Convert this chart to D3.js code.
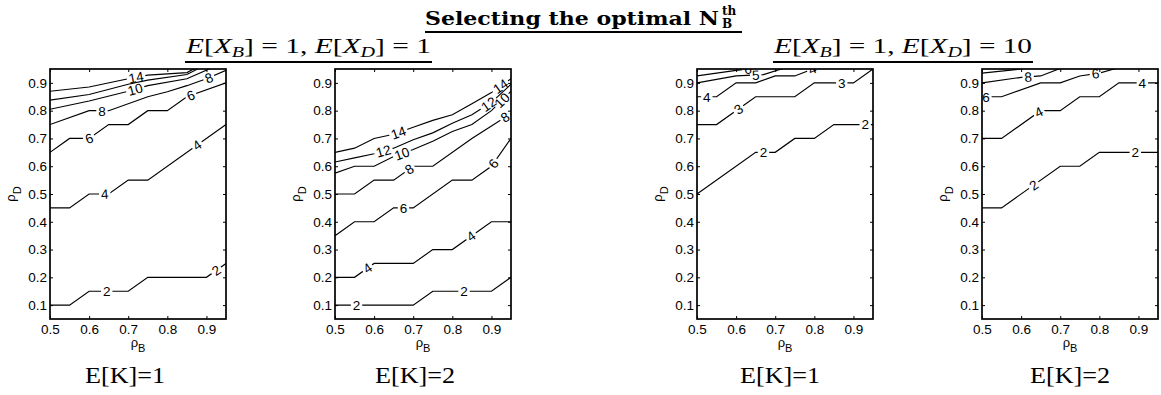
<!DOCTYPE html>
<html>
<head>
<meta charset="utf-8">
<script src="https://cdn.jsdelivr.net/npm/d3@7"></script>
<style>
body { margin: 0; background: #fff; }
</style>
</head>
<body>
<script>

var W = 1161,
    H = 395;

// shared axis ranges / ticks
var xDomain = [0.5, 0.95];
var yDomain = [0.05, 0.95];
var xTicks = [0.5, 0.6, 0.7, 0.8, 0.9];
var yTicks = [0.1, 0.2, 0.3, 0.4, 0.5, 0.6, 0.7, 0.8, 0.9];

var captions = ["E[K]=1", "E[K]=2", "E[K]=1", "E[K]=2"];
var groupTitles = [["1", "1"], ["1", "10"]];   // E[X_B], E[X_D]

// contour lines of the optimal N_B^th, traced as [rho_B, rho_D]
// panel 1 : E[XB]=1, E[XD]=1, E[K]=1
var levels1 = [2, 4, 6, 8, 10, 12, 14];
var lines1 = [
  [[0.5,0.1],[0.55,0.1],[0.6,0.15],[0.7,0.15],[0.75,0.2],[0.9,0.2],[0.95,0.25]],
  [[0.5,0.45],[0.55,0.45],[0.6,0.5],[0.65,0.5],[0.7,0.55],[0.75,0.55],[0.95,0.75]],
  [[0.5,0.65],[0.55,0.7],[0.6,0.7],[0.65,0.75],[0.7,0.75],[0.75,0.8],[0.8,0.8],[0.85,0.85],[0.95,0.9]],
  [[0.5,0.75],[0.6,0.8],[0.65,0.8],[0.75,0.85],[0.8,0.868],[0.85,0.89],[0.9,0.915],[0.95,0.945]],
  [[0.5,0.805],[0.6,0.835],[0.7,0.87],[0.75,0.89],[0.85,0.915],[0.91,0.952]],
  [[0.5,0.838],[0.6,0.858],[0.7,0.895],[0.75,0.91],[0.85,0.93],[0.88,0.952]],
  [[0.5,0.87],[0.6,0.885],[0.7,0.915],[0.75,0.928],[0.85,0.937],[0.87,0.952]]
];
var labels1 = [[0.645, 0.925], [0.64, 0.876], [0.6, 0.86], [0.633, 0.906], [0.718], [], [0.72]];

// panel 2 : E[XB]=1, E[XD]=1, E[K]=2
var levels2 = [2, 4, 6, 8, 10, 12, 14];
var lines2 = [
  [[0.5,0.1],[0.7,0.1],[0.75,0.15],[0.9,0.15],[0.95,0.2]],
  [[0.5,0.2],[0.55,0.2],[0.6,0.25],[0.7,0.25],[0.75,0.3],[0.8,0.3],[0.9,0.4],[0.95,0.4]],
  [[0.5,0.35],[0.55,0.4],[0.6,0.4],[0.65,0.45],[0.7,0.45],[0.8,0.55],[0.85,0.55],[0.9,0.6],[0.95,0.7]],
  [[0.5,0.5],[0.55,0.5],[0.6,0.55],[0.65,0.55],[0.7,0.6],[0.75,0.6],[0.85,0.7],[0.9,0.745],[0.95,0.79]],
  [[0.5,0.575],[0.55,0.6],[0.6,0.6],[0.65,0.635],[0.7,0.66],[0.75,0.69],[0.8,0.725],[0.85,0.75],[0.9,0.8],[0.95,0.87]],
  [[0.5,0.615],[0.55,0.63],[0.6,0.645],[0.65,0.665],[0.7,0.695],[0.75,0.72],[0.8,0.755],[0.85,0.785],[0.9,0.83],[0.95,0.895]],
  [[0.5,0.65],[0.55,0.665],[0.6,0.7],[0.65,0.715],[0.7,0.74],[0.75,0.765],[0.8,0.785],[0.85,0.825],[0.9,0.865],[0.95,0.915]]
];
var labels2 = [[0.555, 0.83], [0.583, 0.848], [0.675, 0.905], [0.69, 0.935], [0.671, 0.927], [0.624, 0.893], [0.662, 0.923]];

// panel 3 : E[XB]=1, E[XD]=10, E[K]=1
var levels3 = [2, 3, 4, 5, 6];
var lines3 = [
  [[0.5,0.5],[0.65,0.65],[0.7,0.65],[0.75,0.7],[0.8,0.7],[0.85,0.75],[0.95,0.75]],
  [[0.5,0.75],[0.55,0.75],[0.65,0.85],[0.75,0.85],[0.8,0.9],[0.9,0.9],[0.95,0.95]],
  [[0.5,0.85],[0.55,0.85],[0.6,0.9],[0.65,0.9],[0.7,0.925],[0.75,0.925],[0.8,0.952]],
  [[0.5,0.9],[0.6,0.925],[0.67,0.93],[0.72,0.952]],
  [[0.5,0.925],[0.6,0.945],[0.66,0.955]]
];
var labels3 = [[0.67, 0.93], [0.606, 0.87], [0.525, 0.795], [0.65], [0.63]];

// panel 4 : E[XB]=1, E[XD]=10, E[K]=2
var levels4 = [2, 4, 6, 8, 10];
var lines4 = [
  [[0.5,0.45],[0.55,0.45],[0.7,0.6],[0.75,0.6],[0.8,0.65],[0.95,0.65]],
  [[0.5,0.7],[0.55,0.7],[0.65,0.8],[0.7,0.8],[0.75,0.85],[0.8,0.85],[0.85,0.9],[0.95,0.9]],
  [[0.5,0.85],[0.55,0.85],[0.65,0.9],[0.7,0.9],[0.75,0.925],[0.8,0.935],[0.85,0.955]],
  [[0.5,0.9],[0.6,0.92],[0.65,0.925],[0.7,0.952]],
  [[0.5,0.935],[0.6,0.95],[0.62,0.955]]
];
var labels4 = [[0.632, 0.892], [0.645, 0.91], [0.51, 0.79], [0.618], []];

var panels = [
  {levels: levels1, lines: lines1, labels: labels1},
  {levels: levels2, lines: lines2, labels: labels2},
  {levels: levels3, lines: lines3, labels: labels3},
  {levels: levels4, lines: lines4, labels: labels4}
];

// layout
var panelLeft = [50, 335, 697, 982],
    panelW = 176,
    plotTop = 69,
    plotBottom = 319;
var captionX = [125, 415, 780, 1070];
var groupSpan = [[185, 432], [773, 1033]];

var sans = "'Liberation Sans', Arial, Helvetica, sans-serif";
var serif = "'Liberation Serif', 'Times New Roman', serif";

var svg = d3.select("body").append("svg")
    .attr("width", W)
    .attr("height", H)
    .style("font-family", sans);
var defs = svg.append("defs");

function valueAt(pts, vx) {
  if (vx <= pts[0][0]) return pts[0][1];
  for (var i = 1; i < pts.length; i++) {
    if (vx <= pts[i][0]) {
      var t = (vx - pts[i-1][0]) / (pts[i][0] - pts[i-1][0]);
      return pts[i-1][1] + t * (pts[i][1] - pts[i-1][1]);
    }
  }
  return pts[pts.length-1][1];
}
function pointAt(pts, vx) {
  vx = Math.max(pts[0][0], Math.min(pts[pts.length-1][0], vx));
  return [vx, valueAt(pts, vx)];
}

panels.forEach(function(p, pi) {
  var x0 = panelLeft[pi];
  var x = d3.scaleLinear().domain(xDomain).range([x0, x0 + panelW]);
  var y = d3.scaleLinear().domain(yDomain).range([plotBottom, plotTop]);
  var line = d3.line().x(function(d) { return x(d[0]); }).y(function(d) { return y(d[1]); });

  defs.append("clipPath").attr("id", "clip" + pi)
    .append("rect")
      .attr("x", x0).attr("y", plotTop)
      .attr("width", panelW).attr("height", plotBottom - plotTop);

  var g = svg.append("g").attr("clip-path", "url(#clip" + pi + ")");

  p.levels.forEach(function(lev, li) {
    var pts = p.lines[li];
    var labs = p.labels[li].map(function(lx) {
      var a = pointAt(pts, lx - 0.012), b = pointAt(pts, lx + 0.012);
      var ang = Math.atan2(y(b[1]) - y(a[1]), x(b[0]) - x(a[0])) * 180 / Math.PI;
      return {px: x(lx), py: y(valueAt(pts, lx)), ang: ang};
    });

    // gap in the line where the inline label sits
    var mid = "mask" + pi + "_" + li;
    var m = defs.append("mask").attr("id", mid)
        .attr("maskUnits", "userSpaceOnUse")
        .attr("x", 0).attr("y", 0).attr("width", W).attr("height", H);
    m.append("rect").attr("width", W).attr("height", H).attr("fill", "#fff");
    var tw = String(lev).length * 7.4 + 4;
    labs.forEach(function(l) {
      m.append("rect")
        .attr("x", -tw / 2).attr("y", -6).attr("width", tw).attr("height", 12)
        .attr("transform", "translate(" + l.px + "," + l.py + ") rotate(" + l.ang + ")")
        .attr("fill", "#000");
    });

    g.append("path")
      .attr("d", line(pts))
      .attr("fill", "none")
      .attr("stroke", "#000")
      .attr("stroke-width", 1.15)
      .attr("mask", "url(#" + mid + ")");

    g.selectAll(null)
      .data(labs)
      .enter().append("text")
      .attr("transform", function(l) { return "translate(" + l.px + "," + l.py + ") rotate(" + l.ang + ")"; })
      .attr("text-anchor", "middle")
      .attr("dy", "0.36em")
      .attr("font-size", 13.5)
      .text(lev);
  });

  // axes, ticks pointing inward on all four sides
  function style(ax) {
    ax.select(".domain").remove();
    ax.attr("font-family", sans).attr("font-size", 13.5);
  }
  svg.append("g").attr("transform", "translate(0," + plotBottom + ")")
    .call(d3.axisBottom(x).tickValues(xTicks).tickSizeInner(-3).tickSizeOuter(0).tickPadding(5).tickFormat(d3.format(".1f")))
    .call(style);
  svg.append("g").attr("transform", "translate(" + x0 + ",0)")
    .call(d3.axisLeft(y).tickValues(yTicks).tickSizeInner(-3).tickSizeOuter(0).tickPadding(3).tickFormat(d3.format(".1f")))
    .call(style);
  svg.append("g").attr("transform", "translate(0," + plotTop + ")")
    .call(d3.axisTop(x).tickValues(xTicks).tickSizeInner(-3).tickSizeOuter(0).tickFormat(""))
    .call(style);
  svg.append("g").attr("transform", "translate(" + (x0 + panelW) + ",0)")
    .call(d3.axisRight(y).tickValues(yTicks).tickSizeInner(-3).tickSizeOuter(0).tickFormat(""))
    .call(style);

  svg.append("rect")
    .attr("x", x0).attr("y", plotTop)
    .attr("width", panelW).attr("height", plotBottom - plotTop)
    .attr("fill", "none")
    .attr("stroke", "#000")
    .attr("stroke-width", 1.7);

  // rho_B / rho_D
  var xl = svg.append("text")
      .attr("x", x0 + panelW / 2).attr("y", 347)
      .attr("text-anchor", "middle")
      .attr("font-size", 13);
  xl.append("tspan").text("\u03C1");
  xl.append("tspan").attr("dy", 5).attr("font-size", 11).text("B");

  var yl = svg.append("text")
      .attr("transform", "translate(" + (x0 - 35) + "," + ((plotTop + plotBottom) / 2) + ") rotate(-90)")
      .attr("text-anchor", "middle")
      .attr("font-size", 13);
  yl.append("tspan").text("\u03C1");
  yl.append("tspan").attr("dy", 6).attr("font-size", 11).text("D");

  svg.append("text")
    .attr("x", captionX[pi]).attr("y", 383)
    .attr("text-anchor", "middle")
    .attr("font-family", serif)
    .attr("font-size", 24)
    .attr("textLength", 80)
    .attr("lengthAdjust", "spacingAndGlyphs")
    .text(captions[pi]);
});

// group headers: E[X_B] = a, E[X_D] = b
groupTitles.forEach(function(gt, gi) {
  var span = groupSpan[gi];
  var t = svg.append("text")
      .attr("x", (span[0] + span[1]) / 2).attr("y", 53)
      .attr("text-anchor", "middle")
      .attr("font-family", serif)
      .attr("font-size", 22)
      .attr("textLength", span[1] - span[0] - 2)
      .attr("lengthAdjust", "spacingAndGlyphs");
  t.append("tspan").attr("font-style", "italic").text("E");
  t.append("tspan").text("[");
  t.append("tspan").attr("font-style", "italic").text("X");
  t.append("tspan").attr("font-style", "italic").attr("font-size", 15).attr("dy", 4).text("B");
  t.append("tspan").attr("dy", -4).text("] = " + gt[0] + ", ");
  t.append("tspan").attr("font-style", "italic").text("E");
  t.append("tspan").text("[");
  t.append("tspan").attr("font-style", "italic").text("X");
  t.append("tspan").attr("font-style", "italic").attr("font-size", 15).attr("dy", 4).text("D");
  t.append("tspan").attr("dy", -4).text("] = " + gt[1]);

  svg.append("line")
    .attr("x1", span[0]).attr("x2", span[1])
    .attr("y1", 62).attr("y2", 62)
    .attr("stroke", "#000").attr("stroke-width", 2);
});

// main title
var titleFont = "'DejaVu Serif', serif";
svg.append("text")
  .attr("x", 425).attr("y", 25)
  .attr("font-family", titleFont)
  .attr("font-weight", "bold")
  .attr("font-size", 19)
  .attr("textLength", 294)
  .attr("lengthAdjust", "spacingAndGlyphs")
  .text("Selecting the optimal N");
svg.append("text")
  .attr("x", 722).attr("y", 15)
  .attr("font-family", titleFont).attr("font-weight", "bold").attr("font-size", 12)
  .text("th");
svg.append("text")
  .attr("x", 722).attr("y", 28)
  .attr("font-family", titleFont).attr("font-weight", "bold").attr("font-size", 12)
  .text("B");
svg.append("line")
  .attr("x1", 425).attr("x2", 742)
  .attr("y1", 32).attr("y2", 32)
  .attr("stroke", "#000").attr("stroke-width", 2);

</script>
</body>
</html>
